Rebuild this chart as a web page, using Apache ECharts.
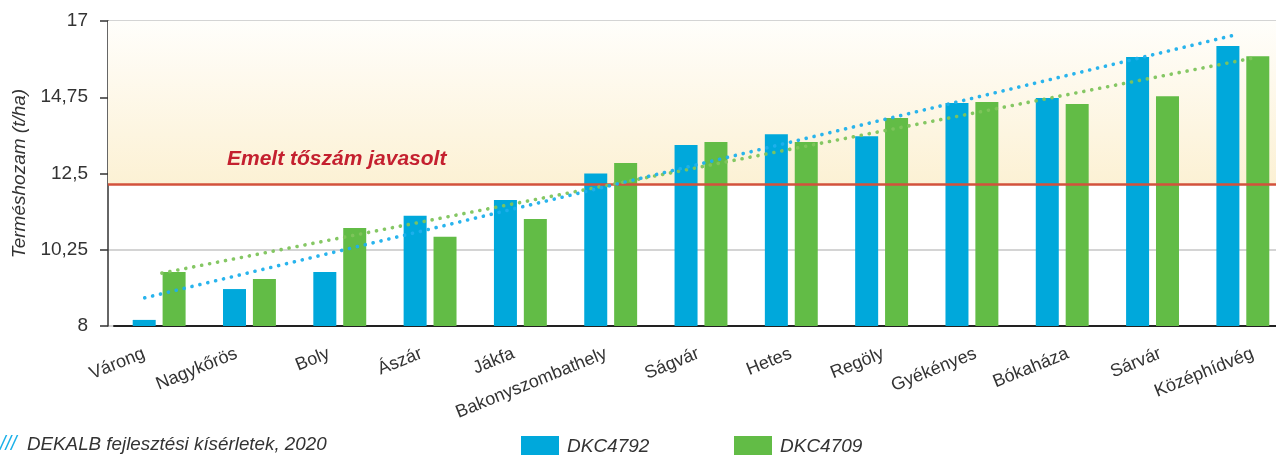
<!DOCTYPE html>
<html>
<head>
<meta charset="utf-8">
<script src="https://cdn.jsdelivr.net/npm/echarts@6/dist/echarts.min.js"></script>
<style>
html,body{margin:0;padding:0;background:#fff;}
#c{width:1276px;height:455px;}
</style>
</head>
<body>
<div id="c"></div>
<script>
const categories = ['Várong','Nagykőrös','Boly','Ászár','Jákfa','Bakonyszombathely','Ságvár','Hetes','Regöly','Gyékényes','Bókaháza','Sárvár','Középhídvég'];
const dkc4792 = [8.18, 9.09, 9.59, 11.25, 11.72, 12.5, 13.34, 13.66, 13.6, 14.58, 14.73, 15.94, 16.26];
const dkc4709 = [9.59, 9.39, 10.89, 10.63, 11.16, 12.81, 13.43, 13.43, 14.14, 14.61, 14.55, 14.78, 15.96];
// trend line end points: [category position, yield]
const trend4792 = [[-0.16, 8.83], [11.9, 16.58]];
const trend4709 = [[0.03, 9.56], [12.1, 15.9]];
const thresholdValue = 12.17;
const thresholdLabel = 'Emelt tőszám javasolt';
const yTickLabels = {8: '8', 10.25: '10,25', 12.5: '12,5', 14.75: '14,75', 17: '17'};
const yTitle = 'Terméshozam (t/ha)';
const sourceNote = 'DEKALB fejlesztési kísérletek, 2020';

const FONT = '"Liberation Sans", Arial, sans-serif';
const BLUE = '#00A8DB';
const GREEN = '#62BC46';

const chart = echarts.init(document.getElementById('c'));
const dotted = (color) => ({color: color, width: 3.6, type: [0.1, 8], cap: 'round', opacity: 0.95});

chart.setOption({
  animation: false,
  textStyle: {fontFamily: FONT},
  grid: [
    {left: 108, right: 0, top: 21, bottom: 129, containLabel: false, outerBoundsMode: 'none'},
    {left: 114, width: 1174, top: 21, bottom: 129, containLabel: false, outerBoundsMode: 'none'},
    // the category labels in the original are spread slightly wider than the bars
    {left: 98, width: 1201, top: 21, bottom: 129, containLabel: false, outerBoundsMode: 'none'}
  ],
  xAxis: [
    {type: 'value', gridIndex: 0, min: 0, max: 1, show: false},
    {type: 'category', gridIndex: 1, data: categories,
     axisLine: {show: true, lineStyle: {color: '#222', width: 2}},
     axisTick: {show: false},
     axisLabel: {show: false}},
    {type: 'value', gridIndex: 1, min: -0.5, max: 12.5, show: false},
    {type: 'category', gridIndex: 2, data: categories,
     axisLine: {show: false}, axisTick: {show: false},
     axisLabel: {rotate: 22, margin: 27, fontSize: 18, color: '#333', fontFamily: FONT, interval: 0,
                 hideOverlap: false}}
  ],
  yAxis: [
    {type: 'value', gridIndex: 0, min: 8, max: 17, interval: 2.25,
     name: yTitle, nameLocation: 'middle', nameRotate: 90, nameGap: 75,
     nameTextStyle: {fontSize: 19, fontStyle: 'italic', color: '#333', fontFamily: FONT},
     axisLine: {show: true, lineStyle: {color: '#333', width: 1.5}},
     axisTick: {show: true, length: 8, lineStyle: {color: '#333', width: 1.5}},
     axisLabel: {fontSize: 19, color: '#333', margin: 20, fontFamily: FONT,
                 formatter: (v) => yTickLabels[v] !== undefined ? yTickLabels[v] : String(v).replace('.', ',')},
     splitLine: {show: true, lineStyle: {color: '#C6C6C6', width: 1.5}}},
    {type: 'value', gridIndex: 1, min: 8, max: 17, show: false},
    {type: 'value', gridIndex: 2, min: 8, max: 17, show: false}
  ],
  legend: [
    {data: ['DKC4792'], left: 521, top: 436, padding: 0, itemWidth: 38, itemHeight: 22, icon: 'rect',
     textStyle: {fontSize: 19, fontStyle: 'italic', color: '#333', padding: [0, 0, 0, 3], fontFamily: FONT}},
    {data: ['DKC4709'], left: 734, top: 436, padding: 0, itemWidth: 38, itemHeight: 22, icon: 'rect',
     textStyle: {fontSize: 19, fontStyle: 'italic', color: '#333', padding: [0, 0, 0, 3], fontFamily: FONT}}
  ],
  graphic: [
    {type: 'text', left: 227, top: 149, z: 50,
     style: {text: thresholdLabel, font: 'italic 600 21px ' + FONT, fill: '#C4202F'}},
    {type: 'text', left: 0, top: 434,
     style: {text: '///', font: 'italic 20px ' + FONT, fill: '#1AB0E8'}},
    {type: 'text', left: 27, top: 435,
     style: {text: sourceNote, font: 'italic 18.8px ' + FONT, fill: '#333'}}
  ],
  series: [
    {type: 'line', xAxisIndex: 0, yAxisIndex: 0, data: [], silent: true, z: 1,
     markArea: {silent: true,
       itemStyle: {color: {type: 'linear', x: 0, y: 0, x2: 0, y2: 1,
         colorStops: [{offset: 0, color: '#FFFEFB'}, {offset: 1, color: '#FCF1D4'}]}},
       data: [[{yAxis: thresholdValue}, {yAxis: 17}]]},
     markLine: {silent: true, symbol: 'none', label: {show: false},
       lineStyle: {color: '#D3523C', width: 2.5, type: 'solid'},
       data: [{yAxis: thresholdValue}]}},
    {name: 'DKC4792', type: 'bar', xAxisIndex: 1, yAxisIndex: 1, data: dkc4792,
     barWidth: 23, barGap: '30%', itemStyle: {color: BLUE}, z: 3},
    {name: 'DKC4709', type: 'bar', xAxisIndex: 1, yAxisIndex: 1, data: dkc4709,
     barWidth: 23, barGap: '30%', itemStyle: {color: GREEN}, z: 3},
    {type: 'line', xAxisIndex: 2, yAxisIndex: 1, data: trend4709, showSymbol: false, symbol: 'none',
     lineStyle: dotted('#7EC45C'), z: 5, silent: true},
    {type: 'line', xAxisIndex: 2, yAxisIndex: 1, data: trend4792, showSymbol: false, symbol: 'none',
     lineStyle: dotted('#1DB0EC'), z: 6, silent: true}
  ]
});
</script>
</body>
</html>
